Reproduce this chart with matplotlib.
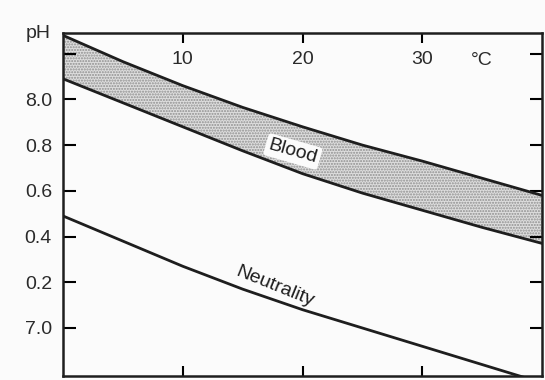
import matplotlib.pyplot as plt

plt.rcParams['font.family'] = ['Liberation Sans', 'DejaVu Sans']

# temperature (deg C) and pH readings
temp = [0, 5, 10, 15, 20, 25, 30, 35, 40]
blood_upper = [8.28, 8.165, 8.06, 7.965, 7.88, 7.80, 7.73, 7.655, 7.58]
blood_lower = [8.09, 7.985, 7.88, 7.775, 7.675, 7.59, 7.515, 7.44, 7.37]
neutral = [7.49, 7.38, 7.27, 7.17, 7.08, 7.00, 6.92, 6.84, 6.76]

x_ticks = [10, 20, 30]
y_ticks = [7.0, 7.2, 7.4, 7.6, 7.8, 8.0, 8.2]
y_labels = ['7.0', '0.2', '0.4', '0.6', '0.8', '8.0', '']

bg = '#fbfbfb'
ink = '#1e1e1e'
txt = '#2a2a2a'

fig = plt.figure(figsize=(5.45, 3.8), dpi=100, facecolor=bg)
ax = fig.add_axes([0.1156, 0.0105, 0.879, 0.9025], facecolor=bg)

ax.fill_between(temp, blood_lower, blood_upper, facecolor='#dedede',
                edgecolor='#8f8f8f', hatch='......', linewidth=0)
ax.plot(temp, blood_upper, color=ink, lw=2.0)
ax.plot(temp, blood_lower, color=ink, lw=2.0)
ax.plot(temp, neutral, color=ink, lw=2.0)

ax.set_xlim(0, 40)
ax.set_ylim(6.79, 8.29)

ax.set_xticks(x_ticks)
ax.set_xticklabels([str(t) for t in x_ticks])
ax.set_yticks(y_ticks)
ax.set_yticklabels(y_labels)

ax.tick_params(axis='x', direction='in', top=True, bottom=True,
               labeltop=True, labelbottom=False, length=7, width=1.5,
               pad=-25, labelsize=14, labelcolor=txt)
ax.tick_params(axis='y', direction='in', left=True, right=True,
               length=9, width=1.5, pad=8, labelsize=14, labelcolor=txt)
for s in ax.spines.values():
    s.set_linewidth(1.8)
    s.set_color(ink)

ax.text(35, 8.17, '°C', fontsize=14, color=txt, ha='center', va='center')
ax.text(-0.025, 1.0, 'pH', transform=ax.transAxes, fontsize=14,
        color=txt, ha='right', va='center')

ax.text(19.2, 7.772, 'Blood', fontsize=14, rotation=-16, color=ink,
        ha='center', va='center',
        bbox=dict(boxstyle='round,pad=0.15', fc=bg, ec='none'))
ax.text(17.7, 7.18, 'Neutrality', fontsize=14, rotation=-22, color=ink,
        ha='center', va='center')

plt.savefig('out.png', dpi=100, facecolor=bg)
